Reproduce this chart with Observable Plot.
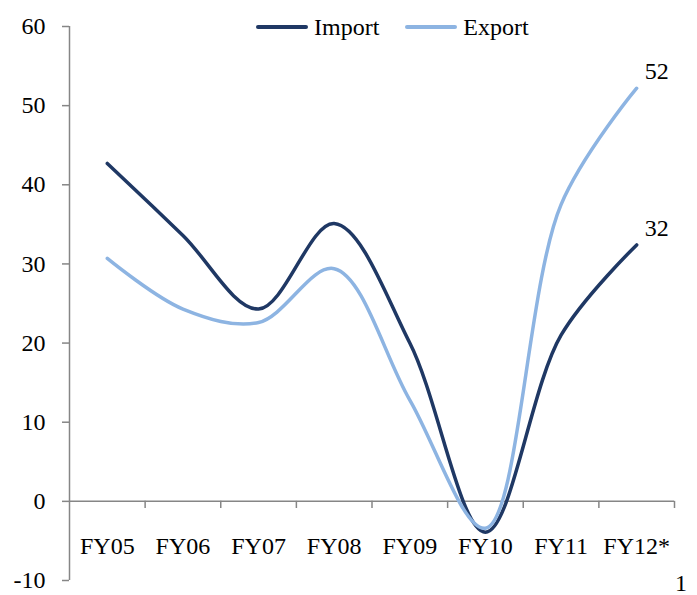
<!DOCTYPE html>
<html><head><meta charset="utf-8">
<script src="https://cdn.jsdelivr.net/npm/d3@7"></script>
<script src="https://cdn.jsdelivr.net/npm/@observablehq/plot@0.6"></script>
<style>
body{margin:0;background:#fff;}
#wrap{position:relative;width:697px;height:595px;font-family:"Liberation Serif","Times New Roman",serif;font-size:24px;color:#000;}
#legend{position:absolute;top:14px;left:256px;display:flex;align-items:center;line-height:26px;}
#legend .item{display:flex;align-items:center;margin-right:26px;}
#legend svg{margin-right:6px;}
#pagenum{position:absolute;left:675px;top:570px;line-height:26px;}
</style></head><body><div id="wrap"><div id="chart"></div><div id="legend"></div><div id="pagenum">1</div></div>
<script>
const categories = ["FY05","FY06","FY07","FY08","FY09","FY10","FY11","FY12*"];
const importValues = [42.7, 33.6, 24.3, 35.1, 20.0, -3.9, 21.0, 32.4];
const exportValues = [30.7, 24.3, 22.6, 29.4, 12.8, -3.4, 37.5, 52.2];
const yTicks = [-10, 0, 10, 20, 30, 40, 50, 60];
const seriesNames = ["Import", "Export"];
const seriesColors = ["#1F3864", "#8DB4E2"];

const rows = [];
categories.forEach((c, i) => {
  rows.push({series: "Import", cat: c, pos: i + 0.5, value: importValues[i]});
});
categories.forEach((c, i) => {
  rows.push({series: "Export", cat: c, pos: i + 0.5, value: exportValues[i]});
});
const endRows = seriesNames.map(s => rows.filter(r => r.series === s).slice(-1)[0]);
const boundaries = d3.range(1, categories.length + 1);

const chart = Plot.plot({
  width: 697, height: 595,
  marginLeft: 69, marginRight: 23, marginTop: 26, marginBottom: 15,
  style: {fontFamily: "Liberation Serif, Times New Roman, serif", fontSize: "24px", background: "white", color: "black"},
  x: {domain: [0, categories.length], axis: null},
  y: {domain: [-10, 60], axis: null},
  color: {domain: seriesNames, range: seriesColors},
  marks: [
    Plot.axisY({ticks: yTicks, tickSize: 7, tickPadding: 17, stroke: "#868686", strokeWidth: 1.5, fill: "black", label: null, tickFormat: d => String(d), fontSize: 24}),
    Plot.ruleX([0], {stroke: "#868686", strokeWidth: 1.5}),
    Plot.ruleY([0], {stroke: "#868686", strokeWidth: 1.5}),
    Plot.ruleX(boundaries, {y1: 0, y2: -0.9, stroke: "#868686", strokeWidth: 1.5}),
    Plot.text(categories, {x: (d, i) => i + 0.5, y: () => 0, dy: 45, text: d => d, fill: "black"}),
    Plot.line(rows, {x: "pos", y: "value", z: "series", stroke: "series", strokeWidth: 3.5, curve: "catmull-rom", strokeLinecap: "round"}),
    Plot.text(endRows, {x: "pos", y: "value", text: d => String(Math.round(d.value)), dx: 8, dy: -17, textAnchor: "start", fill: "black"})
  ]
});
document.getElementById("chart").appendChild(chart);

const legend = document.getElementById("legend");
seriesNames.forEach((s, i) => {
  const item = document.createElement("div");
  item.className = "item";
  item.innerHTML = `<svg width="52" height="8"><line x1="2" y1="4" x2="50" y2="4" stroke="${seriesColors[i]}" stroke-width="4" stroke-linecap="round"/></svg><span>${s}</span>`;
  legend.appendChild(item);
});
</script>
</body></html>
